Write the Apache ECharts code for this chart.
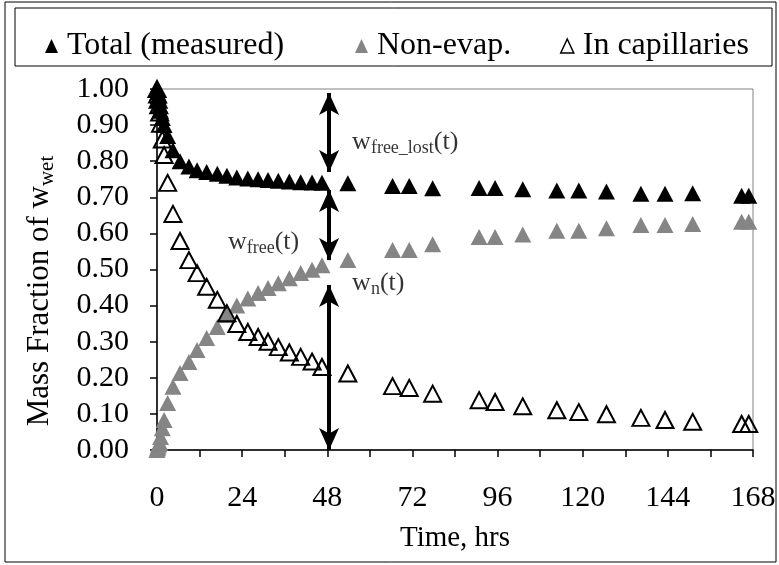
<!DOCTYPE html>
<html><head><meta charset="utf-8">
<script src="https://cdn.jsdelivr.net/npm/echarts@6/dist/echarts.min.js"></script>
<style>html,body{margin:0;padding:0;background:#fff}#c{width:779px;height:565px}</style>
</head><body><div id="c"></div>
<script>
// ---- data ----
const timeHrs = [0, 0.17, 0.33, 0.5, 0.75, 1, 1.5, 2, 3, 4.5, 6.5, 9, 11.3, 14, 17, 19.7, 22.5, 25.6, 28.5, 31.3, 34.2, 37.3, 40.5, 43.7, 46.5, 53.8, 66.4, 71.1, 77.7, 90.8, 95.3, 103.1, 112.7, 118.9, 126.7, 136.4, 143.2, 151, 164.8, 166.8];
const totalMeasured = [1.00, 0.99, 0.98, 0.97, 0.955, 0.94, 0.92, 0.90, 0.87, 0.83, 0.80, 0.785, 0.775, 0.77, 0.765, 0.76, 0.755, 0.752, 0.75, 0.748, 0.746, 0.744, 0.742, 0.741, 0.74, 0.739, 0.731, 0.731, 0.725, 0.726, 0.726, 0.722, 0.719, 0.719, 0.716, 0.710, 0.710, 0.711, 0.704, 0.704];
const nonEvap = [0, 0.005, 0.01, 0.015, 0.02, 0.036, 0.06, 0.083, 0.13, 0.175, 0.213, 0.244, 0.277, 0.31, 0.341, 0.374, 0.40, 0.42, 0.435, 0.449, 0.462, 0.476, 0.49, 0.499, 0.512, 0.526, 0.554, 0.554, 0.570, 0.590, 0.590, 0.597, 0.607, 0.607, 0.614, 0.623, 0.623, 0.626, 0.632, 0.632];
const inCapillaries = [1.0, 0.985, 0.97, 0.955, 0.935, 0.904, 0.86, 0.817, 0.74, 0.654, 0.579, 0.526, 0.49, 0.452, 0.416, 0.379, 0.349, 0.327, 0.313, 0.30, 0.285, 0.27, 0.258, 0.245, 0.23, 0.212, 0.177, 0.172, 0.156, 0.138, 0.133, 0.121, 0.110, 0.105, 0.099, 0.089, 0.083, 0.078, 0.072, 0.072];
const seriesNames = ['Total (measured)', 'Non-evap.', 'In capillaries'];
const xTicks = [0, 24, 48, 72, 96, 120, 144, 168];
// annotation arrows: [x, yFrom, yTo]
const arrows = [[48.5, 0.989, 0.770], [48.5, 0.720, 0.526], [48.5, 0.457, 0.0]];
// annotation labels: [x, y, main, sub]
const notes = [[55, 0.853, 'w', 'free_lost'], [20, 0.576, 'w', 'free'], [55, 0.463, 'w', 'n']];

const FONT = '"Liberation Serif","Times New Roman",serif';
const pts = arr => timeHrs.map((t, i) => [t, arr[i]]);
const richT = { m: { fontFamily: FONT, fontSize: 26, color: '#000' }, s: { fontFamily: FONT, fontSize: 18, color: '#000', padding: [12, 0, 0, 0] } };
const richY = { m: { fontFamily: FONT, fontSize: 31, color: '#000' }, s: { fontFamily: FONT, fontSize: 21, color: '#000', padding: [14, 0, 0, 0] } };
const legendBase = { top: 25, itemWidth: 13, itemHeight: 14, itemGap: 0,
  textStyle: { fontFamily: FONT, fontSize: 32, color: '#000', padding: [0, 0, 0, 4] } };

const chart = echarts.init(document.getElementById('c'), null, { renderer: 'canvas' });
chart.setOption({
  backgroundColor: '#fff',
  animation: false,
  grid: { left: 157, right: 26, top: 89, bottom: 115, show: true, borderColor: '#808080', borderWidth: 1 },
  graphic: [
    { type: 'rect', shape: { x: 5, y: 2, width: 771, height: 560 }, style: { fill: 'none', stroke: '#000', lineWidth: 1 }, z: -1 },
    { type: 'rect', shape: { x: 15, y: 8, width: 757, height: 58 }, style: { fill: '#fff', stroke: '#000', lineWidth: 1 }, z: 0 },
    { type: 'text', x: 40, y: 291, rotation: Math.PI / 2,
      style: { text: '{m|Mass Fraction of w}{s|wet}', rich: richY, align: 'center', verticalAlign: 'middle' } }
  ],
  legend: [
    Object.assign({}, legendBase, { left: 40, data: [{ name: seriesNames[0], icon: 'triangle', itemStyle: { color: '#000' } }] }),
    Object.assign({}, legendBase, { left: 350, data: [{ name: seriesNames[1], icon: 'triangle', itemStyle: { color: '#858585' } }] }),
    Object.assign({}, legendBase, { left: 555, data: [{ name: seriesNames[2], icon: 'triangle', itemStyle: { color: 'rgba(0,0,0,0)', borderColor: '#000', borderWidth: 1.5 } }] })
  ],
  xAxis: {
    type: 'value', min: 0, max: 168, interval: 12,
    name: 'Time, hrs', nameLocation: 'middle', nameGap: 74,
    nameTextStyle: { fontFamily: FONT, fontSize: 29, color: '#000' },
    axisLine: { onZero: false, lineStyle: { color: '#000', width: 1.5 } },
    axisTick: { show: true, inside: false, length: 7, lineStyle: { color: '#000', width: 1.5 } },
    axisLabel: { fontFamily: FONT, fontSize: 30, color: '#000', margin: 33,
      formatter: v => (xTicks.indexOf(v) >= 0 ? String(v) : '') },
    splitLine: { show: false }
  },
  yAxis: {
    type: 'value', min: 0, max: 1, interval: 0.1,
    axisLine: { lineStyle: { color: '#000', width: 1.5 } },
    axisTick: { show: true, inside: false, length: 7, lineStyle: { color: '#000', width: 1.5 } },
    axisLabel: { fontFamily: FONT, fontSize: 30, color: '#000', margin: 28, formatter: v => v.toFixed(2) },
    splitLine: { show: false }
  },
  series: [
    { name: seriesNames[0], type: 'scatter', symbol: 'triangle', symbolSize: [17, 16], data: pts(totalMeasured),
      itemStyle: { color: '#000', opacity: 1 }, z: 3 },
    { name: seriesNames[1], type: 'scatter', symbol: 'triangle', symbolSize: [17, 16], data: pts(nonEvap),
      itemStyle: { color: '#858585', opacity: 1 }, z: 4 },
    { name: seriesNames[2], type: 'scatter', symbol: 'triangle', symbolSize: [17, 16], data: pts(inCapillaries),
      itemStyle: { color: 'rgba(0,0,0,0)', borderColor: '#000', borderWidth: 2, opacity: 1 }, z: 5 },
    { name: 'arrows', type: 'line', data: [], z: 6,
      markLine: { silent: true, symbol: ['arrow', 'arrow'], symbolSize: [15, 22],
        lineStyle: { color: '#000', width: 4, type: 'solid' }, label: { show: false },
        data: arrows.map(a => [{ coord: [a[0], a[1]] }, { coord: [a[0], a[2]] }]) } },
    { name: 'notes', type: 'scatter', symbolSize: 0, z: 7, silent: true,
      data: notes.map(n => ({ value: [n[0], n[1]], label: { show: true, position: 'right', distance: 0,
        formatter: '{m|' + n[2] + '}{s|' + n[3] + '}{m|(t)}', rich: richT } })) }
  ]
});
</script></body></html>
